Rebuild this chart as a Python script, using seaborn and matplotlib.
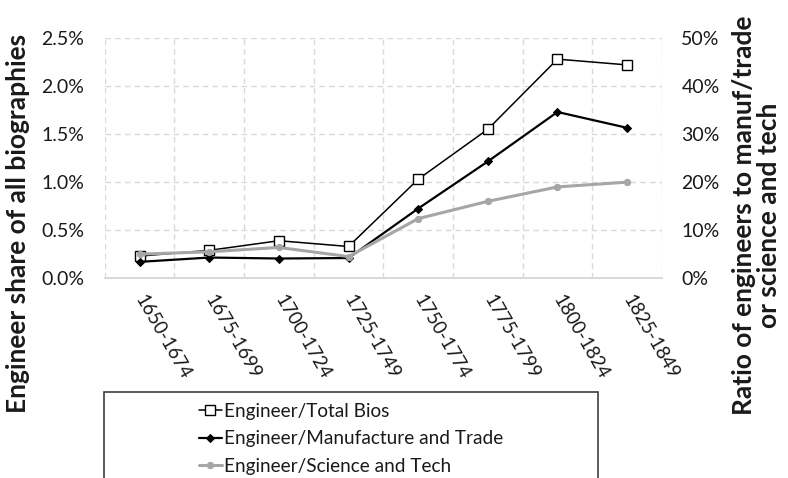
import numpy as np
import pandas as pd
import matplotlib
matplotlib.use("Agg")
import matplotlib.pyplot as plt
from matplotlib.ticker import PercentFormatter, FixedLocator
from matplotlib.patches import Rectangle
import seaborn as sns

#%% Data (values in percent)
periods = ['1650-1674', '1675-1699', '1700-1724', '1725-1749',
           '1750-1774', '1775-1799', '1800-1824', '1825-1849']
total_bios = [0.23, 0.29, 0.39, 0.33, 1.03, 1.55, 2.28, 2.22]
manuf_trade = [3.4, 4.3, 4.1, 4.2, 14.5, 24.3, 34.6, 31.3]
sci_tech = [5.0, 5.5, 6.4, 4.5, 12.4, 16.0, 19.0, 20.0]

df = pd.DataFrame({'period': periods, 'total': total_bios,
                   'manuf': manuf_trade, 'sci': sci_tech})

#%% Style
sns.set_style("white")
plt.rcParams['font.family'] = ['Lato', 'DejaVu Sans']
txt = '#1a1a1a'
grid_c = '#d9d9d9'

fig, ax = plt.subplots(figsize=(7.88, 4.78), dpi=100)
fig.subplots_adjust(left=0.133, right=0.840, top=0.9205, bottom=0.418)
ax2 = ax.twinx()

sns.lineplot(data=df, x='period', y='total', ax=ax, sort=False, legend=False,
             color='black', lw=1.1, marker='s', ms=7.5, mfc='white', mec='black',
             mew=1.0, label='Engineer/Total Bios')
sns.lineplot(data=df, x='period', y='manuf', ax=ax2, sort=False, legend=False,
             color='black', lw=1.6, marker='D', ms=4.5, mfc='black', mec='black',
             label='Engineer/Manufacture and Trade')
sns.lineplot(data=df, x='period', y='sci', ax=ax2, sort=False, legend=False,
             color='#a6a6a6', lw=2.2, marker='o', ms=4.5, mfc='#a6a6a6', mec='#a6a6a6',
             label='Engineer/Science and Tech')

# axes ranges and ticks
ax.set_xlim(-0.5, len(periods) - 0.5)
ax.set_ylim(0, 2.5)
ax2.set_ylim(0, 50)
ax.set_yticks(np.arange(0, 2.51, 0.5))
ax2.set_yticks(np.arange(0, 51, 10))
ax.yaxis.set_major_formatter(PercentFormatter(xmax=100, decimals=1))
ax2.yaxis.set_major_formatter(PercentFormatter(xmax=100, decimals=0))

# grid: dashed, vertical at category boundaries
ax.xaxis.set_minor_locator(FixedLocator(np.arange(-0.5, len(periods), 1.0)))
ax.grid(True, which='minor', axis='x', ls=(0, (4, 3)), color=grid_c, lw=1)
ax.grid(True, which='major', axis='y', ls=(0, (4, 3)), color=grid_c, lw=1)
ax.grid(False, which='major', axis='x')
ax2.grid(False)

for a in (ax, ax2):
    for s in ['top', 'left', 'right']:
        a.spines[s].set_visible(False)
    a.spines['bottom'].set_color(grid_c)
    a.spines['bottom'].set_linewidth(1.2)
    a.tick_params(length=0, which='both', labelsize=14, colors=txt)
ax.tick_params(axis='y', pad=15)
ax2.tick_params(axis='y', pad=14)
ax.set_zorder(ax2.get_zorder() - 1)
ax.patch.set_visible(False)

ax.set_xlabel('')
ax.tick_params(axis='x', pad=13, labelsize=13.5)
plt.setp(ax.get_xticklabels(), rotation=-60, ha='left', va='center',
         rotation_mode='anchor')

ax.set_ylabel('Engineer share of all biographies', fontsize=19,
              fontweight='bold', color=txt)
ax.yaxis.set_label_coords(-0.156, 0.23)
ax.yaxis.label.set_va('center')
ax2.set_ylabel('Ratio of engineers to manuf/trade\nor science and tech',
               fontsize=19, fontweight='bold', color=txt, rotation=90,
               linespacing=1.05)
ax2.yaxis.set_label_coords(1.169, 0.26)
ax2.yaxis.label.set_va('center')

#%% Legend box below the plot
fig.patches.append(Rectangle((104 / 788, -0.05), (598 - 104) / 788,
                             1 - 392 / 478 + 0.05, transform=fig.transFigure,
                             fill=False, ec='#404040', lw=1.2))
h1, l1 = ax.get_legend_handles_labels()
h2, l2 = ax2.get_legend_handles_labels()
fig.legend(h1 + h2, l1 + l2, loc='upper left',
           bbox_to_anchor=(199 / 788, 1 - 403 / 478), frameon=False,
           fontsize=13.7, handlelength=1.2, handletextpad=0.1,
           labelspacing=0.55, borderpad=0, borderaxespad=0, labelcolor=txt)

fig.savefig('out.png', dpi=100)
